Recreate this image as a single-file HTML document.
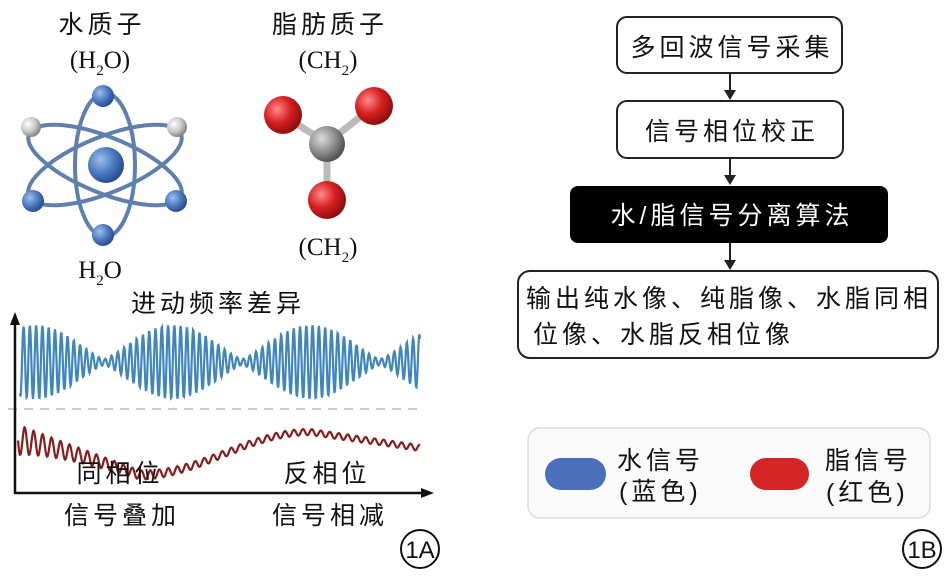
<!DOCTYPE html>
<html><head><meta charset="utf-8"><style>
body{margin:0;background:#fff;width:945px;height:574px;overflow:hidden}
text{font-family:"Liberation Sans","Noto Sans CJK SC",sans-serif;fill:#111}
.c{letter-spacing:4px}
.s{font-family:"Liberation Serif",serif}
</style></head><body>
<svg id="sv" width="945" height="574" viewBox="0 0 945 574" xmlns="http://www.w3.org/2000/svg">
<defs>
<radialGradient id="bl" cx="35%" cy="35%" r="65%"><stop offset="0" stop-color="#9cc0ea"/><stop offset="0.6" stop-color="#4a78c0"/><stop offset="1" stop-color="#2c4f90"/></radialGradient>
<radialGradient id="gr" cx="35%" cy="35%" r="65%"><stop offset="0" stop-color="#fff"/><stop offset="0.6" stop-color="#c8c8c8"/><stop offset="1" stop-color="#888"/></radialGradient>
<radialGradient id="rd" cx="35%" cy="35%" r="65%"><stop offset="0" stop-color="#ff8a8a"/><stop offset="0.55" stop-color="#d82020"/><stop offset="1" stop-color="#901010"/></radialGradient>
<radialGradient id="cg" cx="35%" cy="35%" r="65%"><stop offset="0" stop-color="#ddd"/><stop offset="0.6" stop-color="#8c8c8c"/><stop offset="1" stop-color="#555"/></radialGradient>
</defs>
<text x="102" y="33" font-size="25" text-anchor="middle" class="c">水质子</text>
<text x="100" y="68" font-size="25" text-anchor="middle" class="s">(H<tspan font-size="15" dy="7">2</tspan><tspan dy="-7">O)</tspan></text>
<text x="330" y="33" font-size="25" text-anchor="middle" class="c">脂肪质子</text>
<text x="328" y="68" font-size="25" text-anchor="middle" class="s">(CH<tspan font-size="15" dy="7">2</tspan><tspan dy="-7">)</tspan></text>
<g fill="none" stroke="#5f7fae" stroke-width="4">
<ellipse cx="105" cy="165" rx="30" ry="72"/>
<ellipse cx="105" cy="165" rx="82" ry="28" transform="rotate(22 105 165)"/>
<ellipse cx="105" cy="165" rx="82" ry="28" transform="rotate(-22 105 165)"/>
</g>
<circle cx="106" cy="165" r="18" fill="url(#bl)"/>
<circle cx="103" cy="96" r="11" fill="url(#bl)"/>
<circle cx="103" cy="235" r="11" fill="url(#bl)"/>
<circle cx="31" cy="127" r="10" fill="url(#gr)"/>
<circle cx="177" cy="127" r="10" fill="url(#gr)"/>
<circle cx="33" cy="201" r="11" fill="url(#bl)"/>
<circle cx="176" cy="201" r="11" fill="url(#bl)"/>
<g stroke="#bbb" stroke-width="7"><line x1="327" y1="143" x2="284" y2="116"/><line x1="327" y1="143" x2="373" y2="107"/><line x1="327" y1="143" x2="327" y2="200"/></g>
<circle cx="283" cy="115" r="19" fill="url(#rd)"/>
<circle cx="374" cy="106" r="19" fill="url(#rd)"/>
<circle cx="327" cy="144" r="18" fill="url(#cg)"/>
<circle cx="327" cy="200" r="19" fill="url(#rd)"/>
<text x="328" y="255" font-size="25" text-anchor="middle" class="s">(CH<tspan font-size="15" dy="7">2</tspan><tspan dy="-7">)</tspan></text>
<text x="100" y="278" font-size="25" text-anchor="middle" class="s">H<tspan font-size="15" dy="7">2</tspan><tspan dy="-7">O</tspan></text>
<text x="218" y="312" font-size="25" text-anchor="middle" class="c">进动频率差异</text>
<line x1="8" y1="409" x2="418" y2="409" stroke="#bbb" stroke-width="1.5" stroke-dasharray="9,7"/>
<path id="bw" fill="none" stroke="#3f86bd" stroke-width="2.2"/>
<path id="rw" fill="none" stroke="#8a1c1c" stroke-width="2.2"/>
<g stroke="#111" stroke-width="2.5"><line x1="15" y1="322" x2="15" y2="494"/><line x1="14" y1="493" x2="424" y2="493"/></g>
<polygon points="15,312 10,325 20,325" fill="#111"/>
<polygon points="434,493 421,488 421,498" fill="#111"/>
<text x="120" y="482" font-size="25" text-anchor="middle" class="c">同相位</text>
<text x="122" y="524" font-size="25" text-anchor="middle" class="c">信号叠加</text>
<text x="327" y="482" font-size="25" text-anchor="middle" class="c">反相位</text>
<text x="330" y="524" font-size="25" text-anchor="middle" class="c">信号相减</text>
<circle cx="420" cy="549" r="19" fill="none" stroke="#111" stroke-width="2"/>
<text x="420" y="558" font-size="24" text-anchor="middle">1A</text>
<g fill="#fff" stroke="#222" stroke-width="2">
<rect x="617" y="17" width="225" height="56" rx="10"/>
<rect x="617" y="101" width="226" height="57" rx="10"/>
<rect x="518" y="271" width="420" height="87" rx="12"/>
</g>
<rect x="570" y="186" width="318" height="57" rx="8" fill="#000"/>
<g stroke="#222" stroke-width="2"><line x1="730" y1="73" x2="730" y2="92"/><line x1="730" y1="158" x2="730" y2="177"/><line x1="730" y1="243" x2="730" y2="262"/></g>
<g fill="#222"><polygon points="724,90 736,90 730,100"/><polygon points="724,175 736,175 730,185"/><polygon points="724,260 736,260 730,270"/></g>
<text x="732" y="56" font-size="25" text-anchor="middle" class="c">多回波信号采集</text>
<text x="732" y="140" font-size="25" text-anchor="middle" class="c">信号相位校正</text>
<text x="732" y="224" font-size="25" text-anchor="middle" class="c" style="fill:#fff">水/脂信号分离算法</text>
<text x="526" y="307" font-size="25" class="c">输出纯水像、纯脂像、水脂同相</text>
<text x="533" y="343" font-size="25" class="c">位像、水脂反相位像</text>
<rect x="528" y="428" width="402" height="90" rx="12" fill="#fafafa" stroke="#ddd" stroke-width="1.5"/>
<rect x="545" y="458" width="61" height="32" rx="16" fill="#4a6fbb"/>
<rect x="750" y="458" width="59" height="32" rx="16" fill="#d42424"/>
<text x="617" y="469" font-size="25" class="c">水信号</text>
<text x="619" y="500" font-size="25" class="c">(蓝色)</text>
<text x="825" y="469" font-size="25" class="c">脂信号</text>
<text x="826" y="501" font-size="25" class="c">(红色)</text>
<circle cx="922" cy="549" r="19" fill="none" stroke="#111" stroke-width="2"/>
<text x="922" y="558" font-size="24" text-anchor="middle">1B</text>
</svg>
<script>
var d="",x;
for(x=20;x<=420;x+=0.5){var env=Math.abs(Math.cos((x-35)*Math.PI/138));var a=3+34*Math.pow(env,1.3);var y=362+a*Math.sin(x*1.0);d+=(x==20?"M":"L")+x.toFixed(1)+","+y.toFixed(1);}
document.getElementById("bw").setAttribute("d",d);
d="";
for(x=18;x<=420;x+=0.5){var base;if(x<140)base=440+35*Math.pow((x-18)/122,1.2);else if(x<310)base=475-43*(1-Math.cos((x-140)/170*Math.PI))/2;else base=432+16*(x-310)/110;var a=12*Math.exp(-(x-18)/60)+3;var y=base+a*Math.sin(x*0.7);d+=(x==18?"M":"L")+x.toFixed(1)+","+y.toFixed(1);}
document.getElementById("rw").setAttribute("d",d);
</script>
</body></html>
